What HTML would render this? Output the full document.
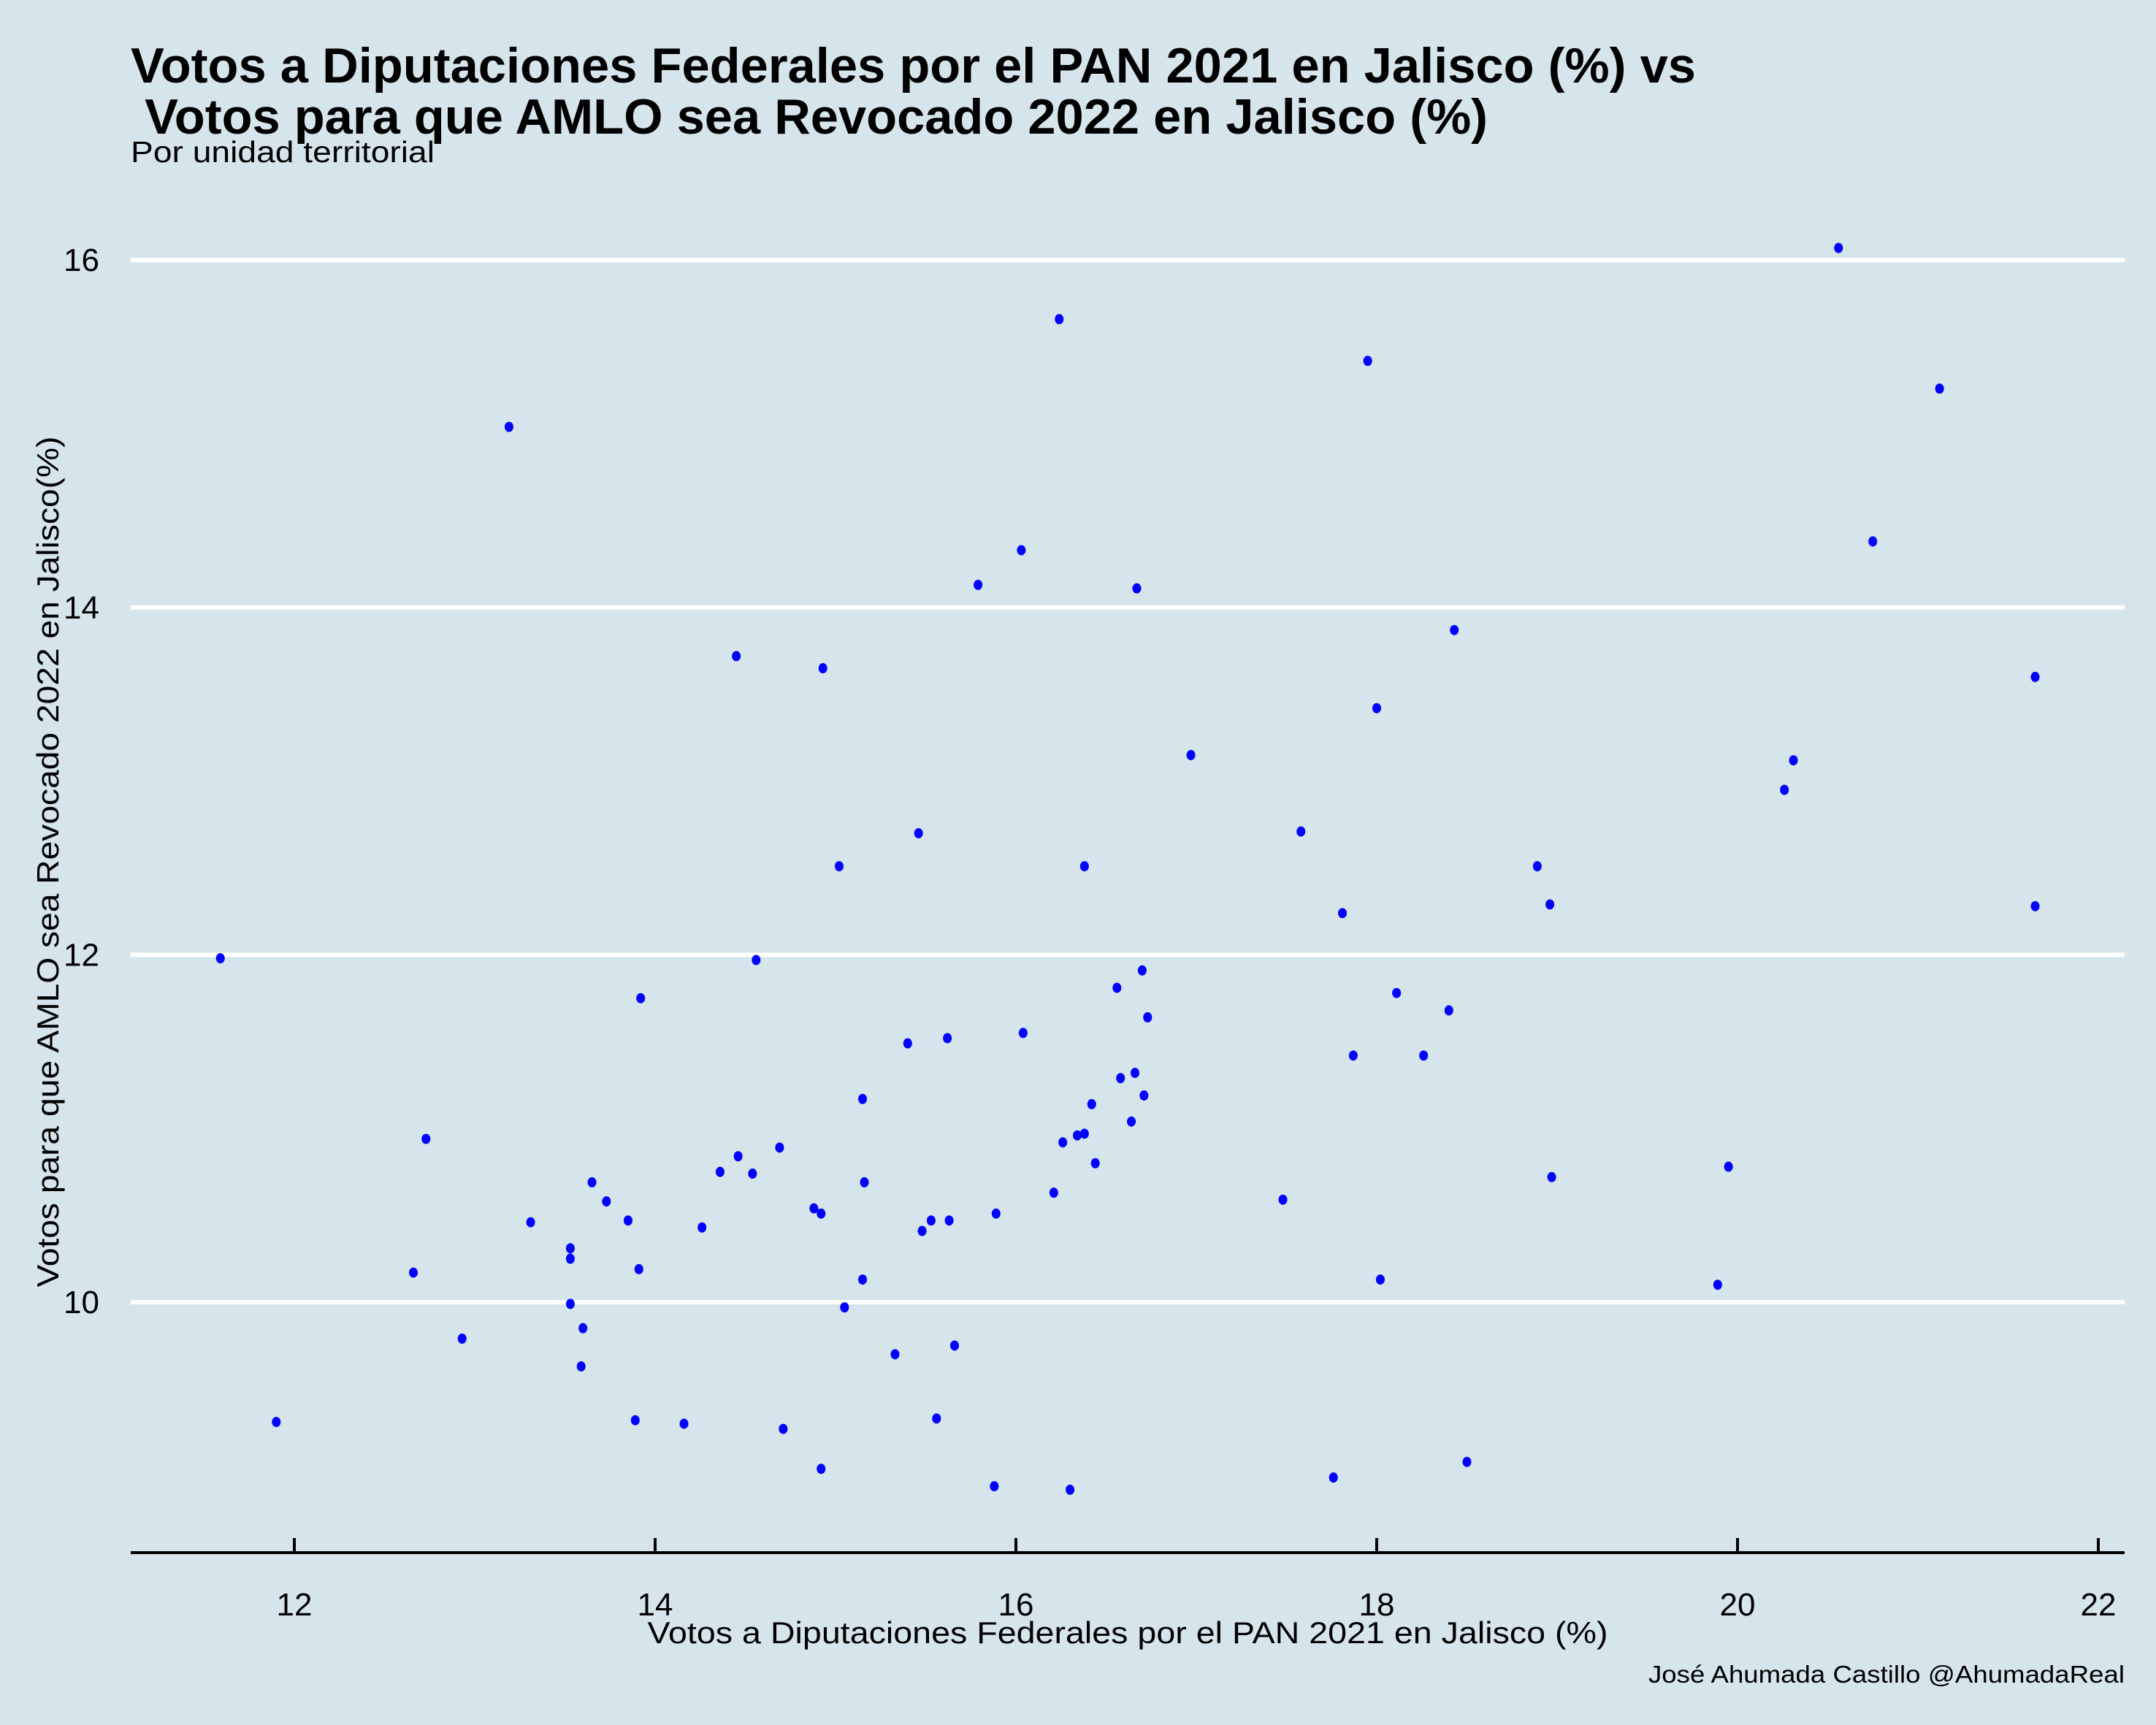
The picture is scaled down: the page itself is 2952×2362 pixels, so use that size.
<!DOCTYPE html>
<html><head><meta charset="utf-8"><style>
html,body{margin:0;padding:0;background:#d6e5ec;}
svg{display:block;font-family:"Liberation Sans",sans-serif;}
</style></head><body>
<svg id="chart" width="2952" height="2362" viewBox="0 0 2952 2362">
<rect width="2952" height="2362" fill="#d6e5ec"/>
<text x="179" y="113" font-size="68" font-weight="bold" textLength="2143" lengthAdjust="spacingAndGlyphs">Votos a Diputaciones Federales por el PAN 2021 en Jalisco (%) vs</text>
<text x="179" y="183" font-size="68" font-weight="bold" textLength="1858" lengthAdjust="spacingAndGlyphs">&#160;Votos para que AMLO sea Revocado 2022 en Jalisco (%)</text>
<text x="179" y="222" font-size="41" textLength="416" lengthAdjust="spacingAndGlyphs">Por unidad territorial</text>
<g id="grid"></g>
<g id="axes"></g>
<g id="points"></g>
<text x="1544" y="2250" font-size="42" text-anchor="middle" textLength="1315" lengthAdjust="spacingAndGlyphs">Votos a Diputaciones Federales por el PAN 2021 en Jalisco (%)</text>
<text transform="translate(80,1180) rotate(-90)" font-size="42" text-anchor="middle" textLength="1165" lengthAdjust="spacingAndGlyphs">Votos para que AMLO sea Revocado 2022 en Jalisco(%)</text>
<text x="2909" y="2304" font-size="33" text-anchor="end" textLength="652" lengthAdjust="spacingAndGlyphs">José Ahumada Castillo @AhumadaReal</text>
</svg>
<script>
const xTicks = [12,14,16,18,20,22];
const yTicks = [10,12,14,16];
const panVotes = [11.59,11.90,12.66,12.73,12.93,13.19,13.31,13.53,13.53,13.53,13.59,13.60,13.65,13.73,13.85,13.89,13.91,13.92,14.16,14.26,14.36,14.45,14.46,14.54,14.56,14.69,14.71,14.88,14.92,14.92,14.93,15.02,15.05,15.15,15.15,15.16,15.33,15.40,15.46,15.48,15.53,15.56,15.62,15.63,15.66,15.79,15.89,16.03,16.04,16.21,16.24,16.26,16.34,16.38,16.38,16.42,16.30,16.44,16.56,16.58,16.64,16.66,16.67,16.70,16.71,16.73,16.97,17.48,17.58,17.76,17.81,17.87,17.95,18.00,18.02,18.11,18.26,18.40,18.43,18.50,18.89,18.96,18.97,19.89,19.95,20.26,20.31,20.56,20.75,21.12,21.65,21.65,15.88];
const revocVotes = [11.98,9.31,10.17,10.94,9.79,15.04,10.46,10.31,10.25,9.99,9.63,9.85,10.69,10.58,10.47,9.32,10.19,11.75,9.30,10.43,10.75,13.72,10.84,10.74,11.97,10.89,9.27,10.54,10.51,9.04,13.65,12.51,9.97,10.13,11.17,10.69,9.70,11.49,12.70,10.41,10.47,9.33,11.52,10.47,9.75,14.13,10.51,14.33,11.55,10.63,15.66,10.92,10.96,10.97,12.51,11.14,8.92,10.80,11.81,11.29,11.04,11.32,14.11,11.91,11.19,11.64,13.15,10.59,12.71,8.99,12.24,11.42,15.42,13.42,10.13,11.78,11.42,11.68,13.87,9.08,12.51,12.29,10.72,10.10,10.78,12.95,13.12,16.07,14.38,15.26,12.28,13.60,8.94];
const NS="http://www.w3.org/2000/svg";
const X = v => 403 + (v-12)*247;
const Y = v => 1783 - (v-10)*237.8;
const L=179, R=2909, AXY=2126;
function mk(tag, attrs, parent){const e=document.createElementNS(NS,tag);for(const k in attrs)e.setAttribute(k,attrs[k]);parent.appendChild(e);return e;}
const grid=document.getElementById('grid'), axes=document.getElementById('axes'), pts=document.getElementById('points');
yTicks.forEach(t=>{
  const ln=mk('line',{x1:L,x2:R,y1:Y(t),y2:Y(t),stroke:'#ffffff','stroke-width':6},grid);
  
  
  const tx=mk('text',{x:136,y:Y(t)+15,'font-size':44,'text-anchor':'end'},axes);
  tx.textContent=t;
  
  
});
const ax=mk('line',{x1:L,x2:R,y1:AXY,y2:AXY,stroke:'#000','stroke-width':4},axes);


xTicks.forEach(t=>{
  const tk=mk('line',{x1:X(t),x2:X(t),y1:AXY-20,y2:AXY,stroke:'#000','stroke-width':4},axes);
  
  
  const tx=mk('text',{x:X(t),y:2212,'font-size':44,'text-anchor':'middle'},axes);
  tx.textContent=t;
  
  
});
panVotes.forEach((v,i)=>{
  const c=mk('ellipse',{cx:X(v),cy:Y(revocVotes[i]),rx:6,ry:7,fill:'#0000ff'},pts);
  
  
});
</script>
</body></html>
